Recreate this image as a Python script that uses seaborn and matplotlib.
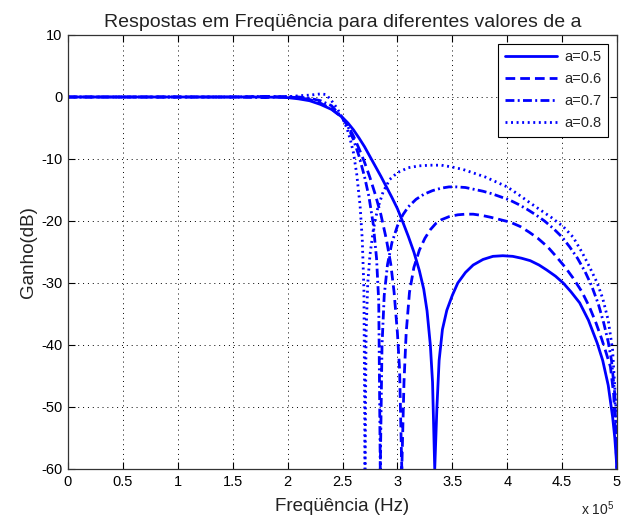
import numpy as np
import pandas as pd
import matplotlib
matplotlib.use("Agg")
import matplotlib.pyplot as plt
import seaborn as sns

# ---- data (frequency in units of 1e5 Hz, gain in dB) ----
f_05 = [0.0, 0.5, 1.0, 1.5, 1.8, 2.0, 2.1, 2.2, 2.3, 2.4, 2.5, 2.55, 2.6, 2.65, 2.7, 2.75, 2.8, 2.85, 2.9, 2.95,
        3.0, 3.05, 3.1, 3.15, 3.2, 3.24, 3.27, 3.3, 3.32, 3.34,
        3.36, 3.38, 3.41, 3.45, 3.5, 3.55, 3.62, 3.69, 3.78, 3.87, 3.96, 4.05, 4.13, 4.21, 4.29, 4.36, 4.44,
        4.51, 4.58, 4.66, 4.74, 4.82, 4.87, 4.92, 4.96, 4.98, 5.0]
g_05 = [0.0, 0.0, 0.0, 0.0, 0.0, -0.1, -0.3, -0.6, -1.2, -2.0, -3.3, -4.2, -5.3, -6.6, -8.0, -9.6, -11.2, -12.8, -14.5, -16.2,
        -18.0, -20.2, -22.5, -25.0, -28.0, -31.0, -34.5, -40.0, -46.0, -60.0,
        -50.0, -42.5, -37.5, -34.4, -32.0, -30.0, -28.3, -27.1, -26.2, -25.7, -25.6, -25.7, -26.0, -26.4, -27.1, -27.9, -28.9,
        -30.0, -31.4, -33.2, -36.0, -39.7, -42.5, -46.5, -51.6, -55.0, -60.0]

f_06 = [0.0, 0.5, 1.0, 1.5, 1.8, 2.0, 2.1, 2.2, 2.3, 2.4, 2.5, 2.55, 2.6, 2.65, 2.7, 2.75, 2.8, 2.85, 2.9, 2.94, 2.97,
        3.0, 3.02, 3.04,
        3.06, 3.08, 3.11, 3.15, 3.2, 3.25, 3.3, 3.35, 3.4, 3.47, 3.55, 3.62, 3.69, 3.77, 3.85, 3.94, 4.03, 4.12, 4.2,
        4.28, 4.37, 4.45, 4.53, 4.6, 4.68, 4.75, 4.81, 4.86, 4.9, 4.94, 4.97, 5.0]
g_06 = [0.0, 0.0, 0.0, 0.0, 0.1, 0.0, -0.1, -0.4, -1.0, -1.9, -3.4, -4.6, -6.3, -8.3, -10.5, -13.0, -15.8, -19.0, -23.0, -27.0, -31.5,
        -38.0, -44.0, -60.0,
        -46.0, -38.0, -31.5, -27.5, -24.7, -22.8, -21.4, -20.4, -19.8, -19.3, -19.0, -18.9, -18.9, -19.1, -19.4, -19.8, -20.2, -20.9, -21.8,
        -22.8, -24.2, -25.8, -27.5, -29.2, -31.4, -33.9, -36.5, -39.0, -41.2, -43.5, -48.0, -60.0]

f_07 = [0.0, 0.5, 1.0, 1.5, 1.8, 2.0, 2.1, 2.2, 2.3, 2.4, 2.5, 2.55, 2.6, 2.65, 2.7, 2.74, 2.78, 2.81, 2.83, 2.844,
        2.86, 2.88, 2.91, 2.95, 3.0, 3.05, 3.1, 3.17, 3.24, 3.32, 3.4, 3.47, 3.54, 3.62, 3.7, 3.78, 3.86, 3.94, 4.02,
        4.1, 4.18, 4.26, 4.34, 4.42, 4.5, 4.57, 4.64, 4.71, 4.77, 4.83, 4.88, 4.92, 4.95, 4.98, 5.0]
g_07 = [0.0, 0.0, 0.0, 0.0, -0.1, 0.1, 0.0, -0.2, -0.6, -1.4, -3.4, -4.8, -6.9, -9.5, -12.8, -16.0, -20.5, -26.0, -33.0, -60.0,
        -40.0, -32.0, -27.0, -23.5, -20.8, -19.0, -17.7, -16.5, -15.7, -15.1, -14.7, -14.5, -14.5, -14.6, -14.9, -15.2, -15.6, -16.1, -16.6,
        -17.3, -18.1, -19.0, -20.0, -21.2, -22.6, -24.2, -26.0, -28.2, -30.5, -33.4, -36.5, -39.5, -42.5, -48.0, -60.0]

f_08 = [0.0, 0.5, 1.0, 1.5, 1.8, 2.0, 2.1, 2.2, 2.3, 2.35, 2.4, 2.45, 2.5, 2.54, 2.57, 2.6, 2.63, 2.66, 2.68, 2.695, 2.705,
        2.715, 2.73, 2.75, 2.78, 2.82, 2.87, 2.93, 3.0, 3.1, 3.2, 3.3, 3.4, 3.5, 3.6, 3.7, 3.8, 3.9, 4.0, 4.1, 4.21,
        4.3, 4.4, 4.51, 4.6, 4.68, 4.75, 4.82, 4.87, 4.92, 4.96, 4.99, 5.0]
g_08 = [0.0, 0.0, 0.0, 0.0, 0.1, 0.0, 0.2, 0.3, 0.5, 0.4, -0.6, -1.8, -3.4, -5.0, -6.8, -9.0, -12.5, -17.5, -23.0, -31.0, -60.0,
        -38.0, -30.0, -25.5, -21.5, -18.0, -15.3, -13.3, -12.2, -11.4, -11.1, -11.0, -11.0, -11.3, -11.7, -12.3, -12.9, -13.7, -14.5, -15.7, -17.1,
        -18.2, -19.4, -20.9, -22.6, -25.0, -27.4, -30.0, -32.5, -36.0, -40.8, -50.0, -60.0]

labels = ["a=0.5", "a=0.6", "a=0.7", "a=0.8"]
x_ticks = [0, 0.5, 1, 1.5, 2, 2.5, 3, 3.5, 4, 4.5, 5]
x_tick_labels = ["0", "0.5", "1", "1.5", "2", "2.5", "3", "3.5", "4", "4.5", "5"]
y_ticks = [-60, -50, -40, -30, -20, -10, 0, 10]

frames = []
for lab, f, g in zip(labels, [f_05, f_06, f_07, f_08], [g_05, g_06, g_07, g_08]):
    frames.append(pd.DataFrame({"freq": f, "gain": g, "a": lab}))
df = pd.concat(frames, ignore_index=True)

sns.set_theme(style="white")
plt.rcParams["font.family"] = ["Liberation Sans", "DejaVu Sans"]
plt.rcParams["mathtext.fontset"] = "custom"
plt.rcParams["mathtext.rm"] = "Liberation Sans"
plt.rcParams["axes.unicode_minus"] = False

fig = plt.figure(figsize=(6.21, 5.21), dpi=100)
ax = fig.add_axes([68 / 621, 1 - 469 / 521, (617 - 68) / 621, (469 - 35) / 521])

blue = "#0000ff"
dashes = {"a=0.5": "", "a=0.6": (3.5, 1.8), "a=0.7": (3.2, 1.2, 0.7, 1.2), "a=0.8": (0.7, 1.3)}
sns.lineplot(data=df, x="freq", y="gain", hue="a", style="a",
             palette=[blue] * 4, dashes=dashes, sort=False, estimator=None,
             linewidth=2.0, ax=ax)

ax.set_xlim(0, 5)
ax.set_ylim(-60, 10)
ax.set_xticks(x_ticks)
ax.set_xticklabels(x_tick_labels)
ax.set_yticks(y_ticks)
ax.grid(True, color="black", linestyle=(0, (1, 4)), linewidth=0.7)
ax.tick_params(direction="in", length=5, width=0.8, colors="black", labelsize=10.5,
               top=True, right=True, bottom=True, left=True, pad=4)
for s in ax.spines.values():
    s.set_color("#333333")
    s.set_linewidth(0.9)

ax.set_xlabel("Freqüência (Hz)", fontsize=13.5, color="#222222", labelpad=7)
ax.set_ylabel("Ganho(dB)", fontsize=13.5, color="#222222", labelpad=3)
ax.set_title("Respostas em Freqüência para diferentes valores de a", fontsize=14,
             color="#222222", pad=6)

fig.text(0.935, 0.012, r"x 10$^{5}$", fontsize=10, color="#222222")

leg = ax.legend(loc="upper right", fontsize=10.5, frameon=True, fancybox=False,
                handlelength=3.6, borderpad=0.45, labelspacing=0.55, borderaxespad=0.6,
                handletextpad=0.5)
leg.get_frame().set_edgecolor("black")
leg.get_frame().set_linewidth(0.8)
leg.get_frame().set_alpha(1)

fig.savefig("out.png", dpi=100, facecolor="white")
